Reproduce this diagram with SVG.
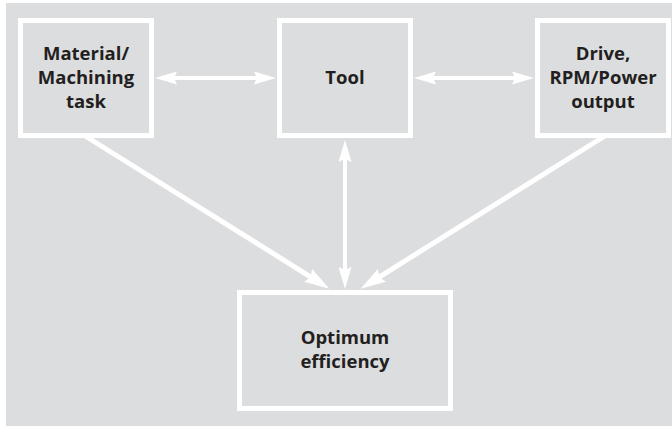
<svg xmlns="http://www.w3.org/2000/svg" width="672" height="426" viewBox="0 0 672 426">
  <style>
    .box { fill: #dcdddf; stroke: #ffffff; stroke-width: 5; }
    .lbl { font-family: "Open Sans", "Liberation Sans", sans-serif; font-weight: bold; font-size: 18.5px; fill: #231f20; text-anchor: middle; }
    .conn { stroke: #ffffff; fill: none; }
    .thin { stroke-width: 4; }
    .thick { stroke-width: 5; }
  </style>
  <defs>
    <marker id="ah" viewBox="0 0 22 13" refX="12" refY="6.5" markerWidth="22" markerHeight="13" markerUnits="userSpaceOnUse" orient="auto-start-reverse">
      <path d="M0,0 L22,6.5 L0,13 L3,6.5 Z" fill="#ffffff"/>
    </marker>
    <marker id="ahb" viewBox="0 0 25 15" refX="14" refY="7.5" markerWidth="25" markerHeight="15" markerUnits="userSpaceOnUse" orient="auto-start-reverse">
      <path d="M0,0 L25,7.5 L0,15 L3,7.5 Z" fill="#ffffff"/>
    </marker>
  </defs>
  <rect x="0" y="0" width="672" height="426" fill="#ffffff"/>
  <rect x="6" y="3" width="666" height="423" fill="#dcdddf"/>

  <g id="connectors">
    <line class="conn thin" x1="165" y1="78" x2="266" y2="78" marker-start="url(#ah)" marker-end="url(#ah)"/>
    <line class="conn thin" x1="424" y1="78" x2="524" y2="78" marker-start="url(#ah)" marker-end="url(#ah)"/>
    <line class="conn thin" x1="345" y1="150" x2="345" y2="279" marker-start="url(#ah)" marker-end="url(#ah)"/>
    <line class="conn thick" x1="82" y1="134" x2="320" y2="282.8" marker-end="url(#ahb)"/>
    <line class="conn thick" x1="608" y1="134" x2="370" y2="282.8" marker-end="url(#ahb)"/>
  </g>

  <g id="material">
    <rect class="box" x="20.5" y="20.5" width="131" height="115"/>
    <text class="lbl" x="86" y="60">Material/</text>
    <text class="lbl" x="86" y="84">Machining</text>
    <text class="lbl" x="86" y="108">task</text>
  </g>
  <g id="tool">
    <rect class="box" x="279.5" y="20.5" width="131" height="115"/>
    <text class="lbl" x="345" y="84">Tool</text>
  </g>
  <g id="drive">
    <rect class="box" x="537.5" y="20.5" width="131" height="115"/>
    <text class="lbl" x="603" y="60">Drive,</text>
    <text class="lbl" x="603" y="84">RPM/Power</text>
    <text class="lbl" x="603" y="108">output</text>
  </g>
  <g id="optimum">
    <rect class="box" x="239.5" y="292.5" width="211" height="116"/>
    <text class="lbl" x="345" y="344">Optimum</text>
    <text class="lbl" x="345" y="368">efficiency</text>
  </g>
</svg>
